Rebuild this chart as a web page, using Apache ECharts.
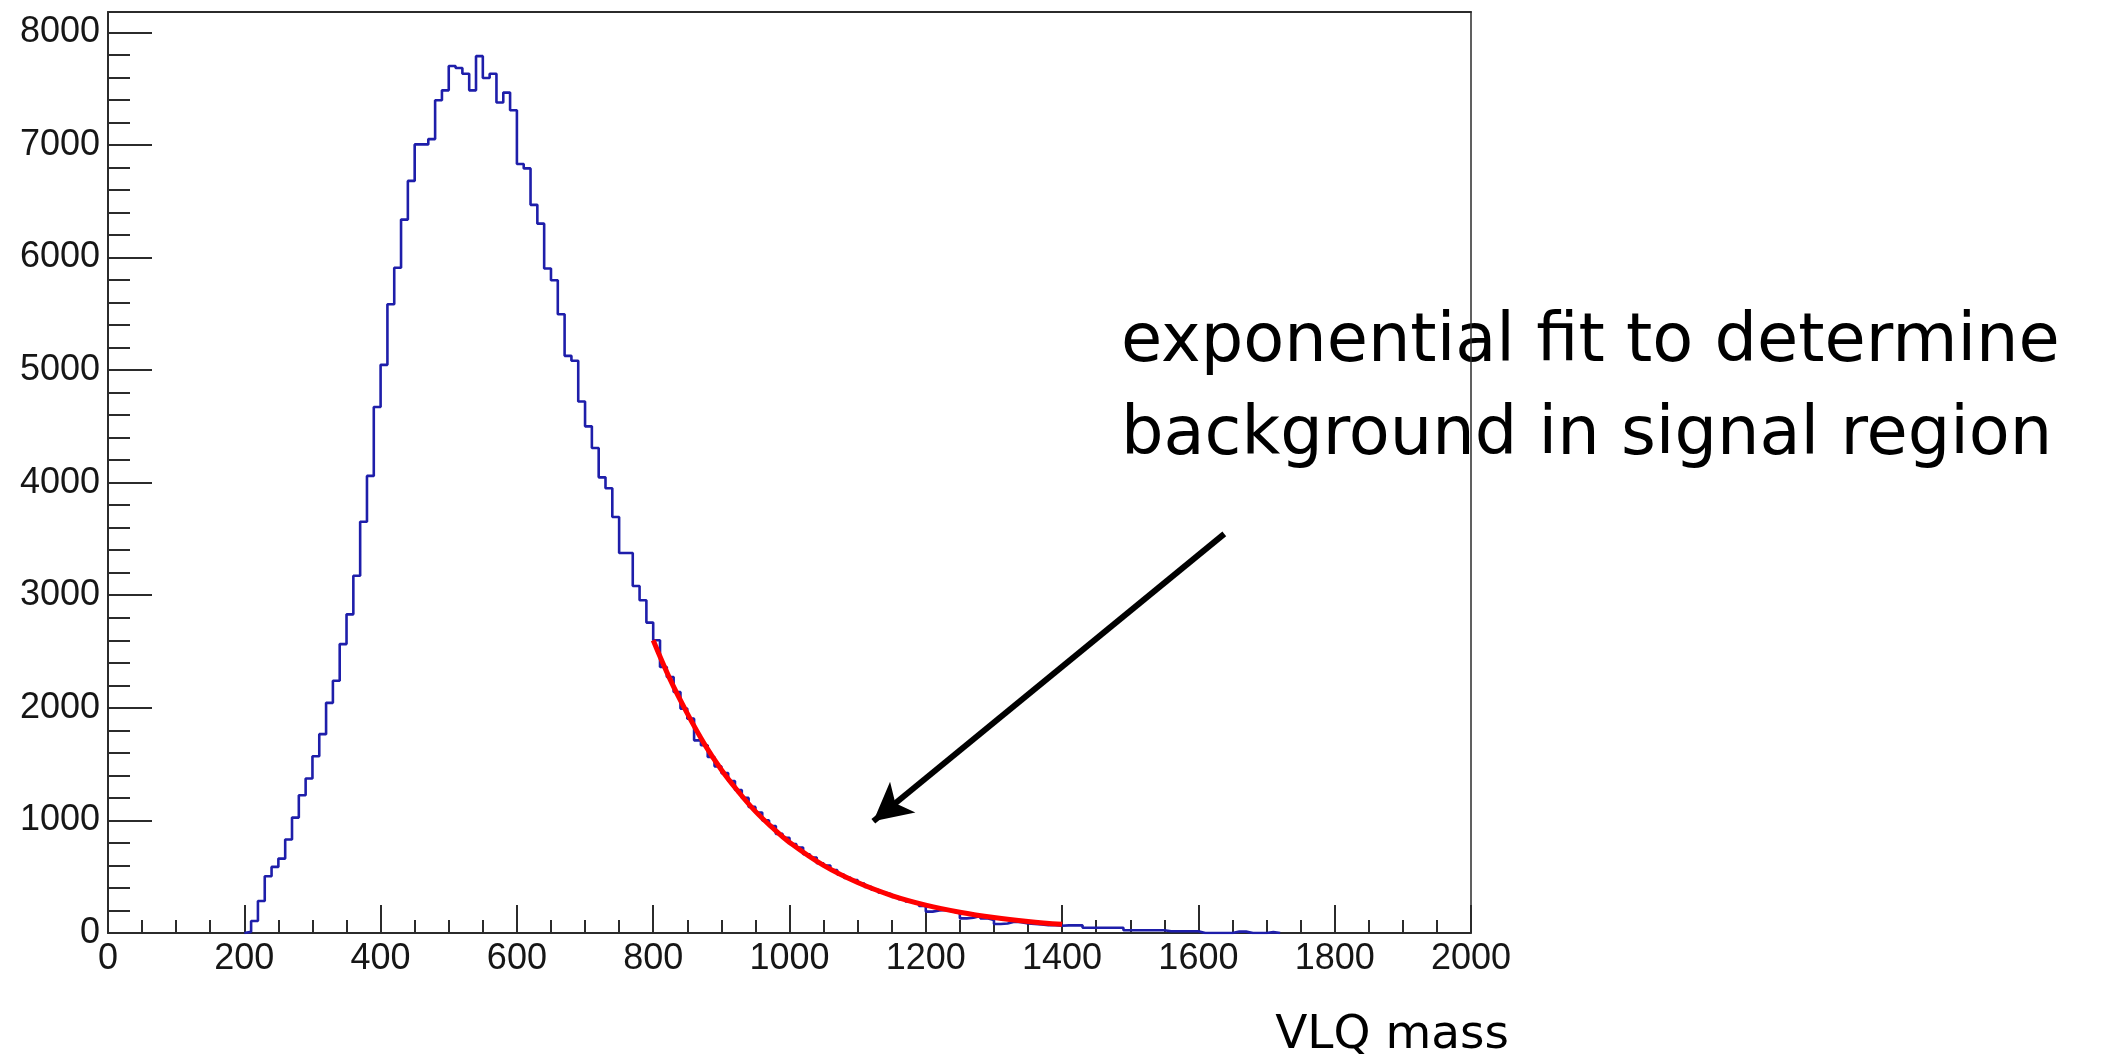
<!DOCTYPE html>
<html>
<head>
<meta charset="utf-8">
<script src="https://cdn.jsdelivr.net/npm/echarts@6/dist/echarts.min.js"></script>
<style>
html,body{margin:0;padding:0;background:#fff;}
#chart{width:2105px;height:1059px;}
</style>
</head>
<body>
<div id="chart"></div>
<script>
// ---- data ----
const binStart = 200;      // lower edge of first non-empty bin
const binWidth = 10;
const counts = [
  10, 107, 284, 504, 587, 661, 830, 1025, 1224, 1372,          // 200-290
  1570, 1766, 2044, 2240, 2566, 2830, 3173, 3653, 4060, 4672,  // 300-390
  5046, 5585, 5909, 6336, 6680, 7004, 7004, 7051, 7396, 7484,  // 400-490
  7700, 7682, 7632, 7484, 7788, 7594, 7632, 7376, 7464, 7308,  // 500-590
  6830, 6791, 6467, 6300, 5902, 5798, 5495, 5126, 5082, 4720,  // 600-690
  4500, 4308, 4047, 3950, 3695, 3375, 3375, 3082, 2955, 2757,  // 700-790
  2600, 2362, 2274, 2140, 1993, 1904, 1711, 1667, 1563, 1480,  // 800-890
  1420, 1350, 1270, 1200, 1120, 1070, 1000, 950, 880, 845,     // 900-990
  790, 760, 700, 670, 620, 600, 560, 520, 490, 470,            // 1000-1090
  440, 410, 385, 360, 345, 320, 300, 280, 265, 240,            // 1100-1190
  190, 200, 205, 190, 175, 130, 135, 150, 130, 115,            // 1200-1290
  80, 85, 100, 95, 85, 80, 75, 70, 70, 65,                     // 1300-1390
  68, 68, 68, 47, 47, 47, 47, 47, 47, 24,                      // 1400-1490
  24, 24, 24, 24, 24, 15, 15, 15, 15, 15,                      // 1500-1590
  0, 0, 0, 0, 0, 12, 12, 0, 0, 0,                              // 1600-1690
  8, 0                                                         // 1700-1710
];
// exponential fit curve
const fitX = [800, 825, 850, 875, 900, 925, 950, 975, 1000, 1050, 1100, 1150, 1200, 1250, 1300, 1350, 1400];
const fitY = [2600, 2250, 1950, 1680, 1450, 1255, 1080, 935, 805, 600, 448, 333, 248, 185, 138, 103, 77];

const xTicks = [0, 200, 400, 600, 800, 1000, 1200, 1400, 1600, 1800, 2000];
const yTicks = [0, 1000, 2000, 3000, 4000, 5000, 6000, 7000, 8000];
const yMinorTicks = [200, 400, 600, 800, 1200, 1400, 1600, 1800, 2200, 2400, 2600, 2800,
  3200, 3400, 3600, 3800, 4200, 4400, 4600, 4800, 5200, 5400, 5600, 5800,
  6200, 6400, 6600, 6800, 7200, 7400, 7600, 7800];
const xMax = 2000;
const yMax = 8180;

// arrow annotation (data coordinates)
const arrowFrom = [1638, 3545];
const arrowTo = [1123, 993];

const annotationLines = ['exponential fit to determine', 'background in signal region'];
const xTitle = 'VLQ mass';

// ---- build ----
const histData = [[binStart, 0]];
counts.forEach((c, i) => histData.push([binStart + i * binWidth, c]));
histData.push([binStart + counts.length * binWidth, 0]);
const fitData = fitX.map((x, i) => [x, fitY[i]]);

const axisColor = '#2b2b2b';
const labelFont = {fontFamily: '"Liberation Sans", Arial, sans-serif', fontSize: 36, color: '#161616', formatter: v => String(v)};

const chart = echarts.init(document.getElementById('chart'), null, {renderer: 'canvas'});
chart.setOption({
  animation: false,
  backgroundColor: '#ffffff',
  grid: {left: 108, right: 634, top: 12, bottom: 126, containLabel: false, outerBoundsMode: 'none'},
  xAxis: [
    {
      type: 'value', min: 0, max: xMax, interval: 200, position: 'bottom',
      axisLine: {show: true, onZero: false, lineStyle: {color: axisColor, width: 2}},
      axisTick: {show: true, inside: true, length: 28, lineStyle: {color: axisColor, width: 2}},
      minorTick: {show: true, splitNumber: 4, length: 13, lineStyle: {color: axisColor, width: 2}},
      axisLabel: Object.assign({margin: 8, customValues: xTicks}, labelFont),
      splitLine: {show: false}, minorSplitLine: {show: false}
    },
    {
      type: 'value', min: 0, max: xMax, position: 'top',
      axisLine: {show: true, onZero: false, lineStyle: {color: axisColor, width: 2}},
      axisTick: {show: false}, axisLabel: {show: false}, splitLine: {show: false}
    }
  ],
  yAxis: [
    {
      type: 'value', min: 0, max: yMax, position: 'left',
      axisLine: {show: true, onZero: false, lineStyle: {color: axisColor, width: 2}},
      axisTick: {show: true, inside: true, length: 44, customValues: yTicks, lineStyle: {color: axisColor, width: 2}},
      axisLabel: Object.assign({margin: 8, customValues: yTicks}, labelFont),
      splitLine: {show: false}
    },
    {
      type: 'value', min: 0, max: yMax, position: 'left',
      axisLine: {show: false},
      axisTick: {show: true, inside: true, length: 22, customValues: yMinorTicks, lineStyle: {color: axisColor, width: 2}},
      axisLabel: {show: false}, splitLine: {show: false}
    },
    {
      type: 'value', min: 0, max: yMax, position: 'right',
      axisLine: {show: true, onZero: false, lineStyle: {color: axisColor, width: 1.5}},
      axisTick: {show: false}, axisLabel: {show: false}, splitLine: {show: false}
    }
  ],
  series: [
    {
      name: 'histogram', type: 'line', step: 'end', data: histData,
      showSymbol: false, symbol: 'none',
      lineStyle: {color: '#1e1eaa', width: 2.6},
      z: 3
    },
    {
      name: 'fit', type: 'line', data: fitData, smooth: 0.4,
      showSymbol: false, symbol: 'none',
      lineStyle: {color: '#ff0000', width: 5},
      z: 4
    },
    {
      name: 'arrow', type: 'line', data: [], z: 5,
      markLine: {
        silent: true, animation: false,
        symbol: ['none', 'arrow'], symbolSize: 34,
        lineStyle: {color: '#000000', width: 6, type: 'solid', opacity: 1},
        itemStyle: {color: '#000000'},
        label: {show: false},
        data: [[
          {coord: arrowFrom, symbol: 'none'},
          {coord: arrowTo, symbol: 'arrow', symbolSize: [30, 38]}
        ]]
      }
    }
  ],
  graphic: [
    {type: 'text', x: 1121, y: 344, style: {text: annotationLines[0], font: '67px "DejaVu Sans", sans-serif', fill: '#000', verticalAlign: 'middle', align: 'left'}},
    {type: 'text', x: 1121, y: 437, style: {text: annotationLines[1], font: '67px "DejaVu Sans", sans-serif', fill: '#000', verticalAlign: 'middle', align: 'left'}},
    {type: 'text', x: 1509, y: 1036, style: {text: xTitle, font: '47px "DejaVu Sans", sans-serif', fill: '#000', verticalAlign: 'middle', align: 'right'}}
  ]
});
</script>
</body>
</html>
